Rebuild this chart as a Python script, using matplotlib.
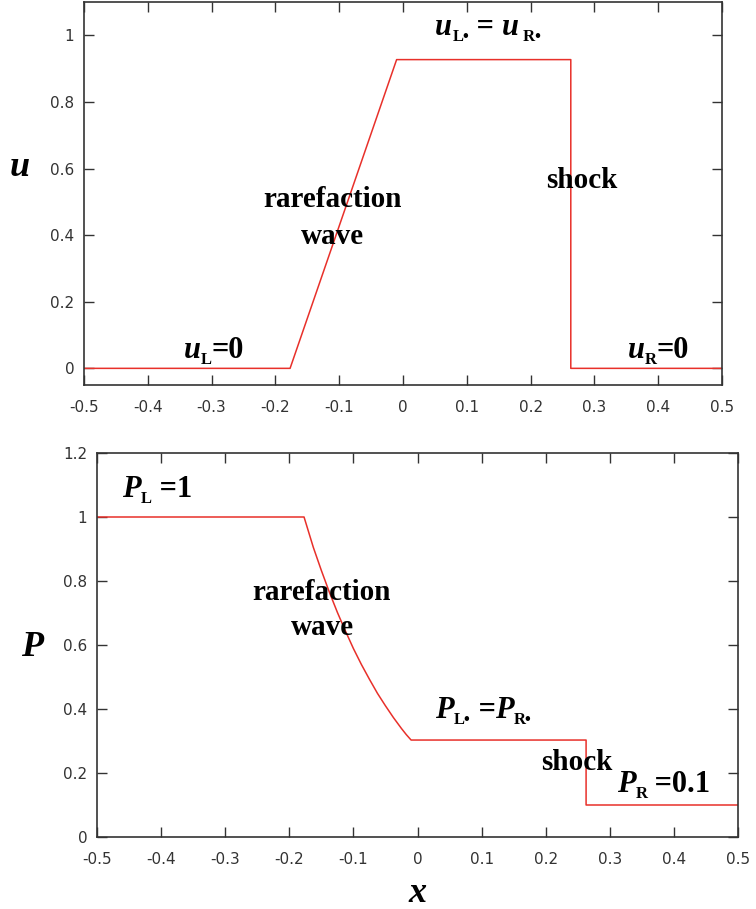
import numpy as np
import matplotlib
matplotlib.use('Agg')
from matplotlib import pyplot as plt
from matplotlib.ticker import FuncFormatter

plt.rcParams['axes.unicode_minus'] = False

# velocity profile: left state, rarefaction (linear), star state, shock, right state
u_x = [-0.5, -0.177, -0.010, 0.263, 0.263, 0.5]
u_vals = [0.0, 0.0, 0.927, 0.927, 0.0, 0.0]

# pressure profile: rarefaction fan is curved, so read at several points
p_x = [-0.5, -0.177, -0.1625, -0.15, -0.1375, -0.125, -0.1125, -0.1, -0.0875,
       -0.075, -0.0625, -0.05, -0.0375, -0.025, -0.0175, -0.010,
       0.263, 0.263, 0.5]
p_vals = [1.0, 1.0, 0.905, 0.833, 0.765, 0.702, 0.644, 0.589, 0.539,
          0.493, 0.449, 0.410, 0.373, 0.339, 0.320, 0.303,
          0.303, 0.1, 0.1]

x_ticks = [-0.5, -0.4, -0.3, -0.2, -0.1, 0, 0.1, 0.2, 0.3, 0.4, 0.5]
u_ticks = [0, 0.2, 0.4, 0.6, 0.8, 1]
p_ticks = [0, 0.2, 0.4, 0.6, 0.8, 1, 1.2]

LINE_COLOR = '#e8302a'
AX_COLOR = '#333333'
SERIF = 'Liberation Serif'
BIG = 22
SMALL = 12
NOTE = dict(fontsize=21, family=SERIF, fontweight='bold',
            ha='center', va='center', color='black')

W, H = 756, 909
fig = plt.figure(figsize=(W / 100, H / 100), dpi=100)
renderer = fig.canvas.get_renderer()

def px_axes(left, right, top, bottom):
    return fig.add_axes([left / W, 1 - bottom / H, (right - left) / W, (bottom - top) / H])

def style(ax, yticks):
    ax.set_xlim(-0.5, 0.5)
    ax.set_xticks(x_ticks)
    ax.set_yticks(yticks)
    fmt = FuncFormatter(lambda v, pos: '%g' % round(v, 2))
    ax.xaxis.set_major_formatter(fmt)
    ax.yaxis.set_major_formatter(fmt)
    ax.tick_params(direction='in', length=7, width=1, top=True, right=True,
                   labelsize=11, labelcolor='#333333', color=AX_COLOR)
    ax.tick_params(axis='x', pad=11)
    ax.tick_params(axis='y', pad=7)
    for s in ax.spines.values():
        s.set_color(AX_COLOR)
        s.set_linewidth(1.2)

def rich(ax, x, y, parts):
    # lay out pieces left to right on one baseline, subscripts shrunk and dropped,
    # then shift the whole group so it is centred on x
    texts = []
    dx = 0
    for s, kind in parts:
        size = SMALL if kind == 'sub' else BIG
        dy = -6 if kind == 'sub' else 0
        t = ax.annotate(s, (x, y), xytext=(dx, dy), textcoords='offset pixels',
                        fontsize=size, family=SERIF, fontweight='bold',
                        fontstyle='italic' if kind == 'it' else 'normal',
                        ha='left', va='baseline')
        texts.append(t)
        dx += t.get_window_extent(renderer).width
    for t in texts:
        t.xyann = (t.xyann[0] - dx / 2, t.xyann[1])

# top: velocity
ax1 = px_axes(84, 722, 2, 385)
ax1.plot(u_x, u_vals, color=LINE_COLOR, lw=1.1)
ax1.set_ylim(-0.05, 1.1)
style(ax1, u_ticks)
rich(ax1, -0.296, 0.03, [('u', 'it'), ('L', 'sub'), ('=0', 'rm')])
ax1.text(-0.111, 0.506, 'rarefaction', **NOTE)
ax1.text(-0.111, 0.395, 'wave', **NOTE)
rich(ax1, 0.133, 1.0, [('u', 'it'), ('L\u2022', 'sub'), (' = ', 'rm'),
                       ('u', 'it'), (' R\u2022', 'sub')])
ax1.text(0.281, 0.563, 'shock', **NOTE)
rich(ax1, 0.40, 0.03, [('u', 'it'), ('R', 'sub'), ('=0', 'rm')])
fig.text(20 / W, 1 - 167 / H, 'u', fontsize=26, family=SERIF, fontweight='bold',
         fontstyle='italic', ha='center', va='center')

# bottom: pressure
ax2 = px_axes(97, 738, 453, 837)
ax2.plot(p_x, p_vals, color=LINE_COLOR, lw=1.1)
ax2.set_ylim(0, 1.2)
style(ax2, p_ticks)
rich(ax2, -0.406, 1.0625, [('P', 'it'), ('L', 'sub'), (' =1', 'rm')])
ax2.text(-0.149, 0.7625, 'rarefaction', **NOTE)
ax2.text(-0.149, 0.656, 'wave', **NOTE)
rich(ax2, 0.103, 0.372, [('P', 'it'), ('L\u2022', 'sub'), (' =', 'rm'),
                         ('P', 'it'), ('R\u2022', 'sub')])
ax2.text(0.248, 0.234, 'shock', **NOTE)
rich(ax2, 0.384, 0.14, [('P', 'it'), ('R', 'sub'), (' =0.1', 'rm')])
fig.text(32 / W, 1 - 647 / H, 'P', fontsize=26, family=SERIF, fontweight='bold',
         fontstyle='italic', ha='center', va='center')
fig.text(417 / W, 1 - 893 / H, 'x', fontsize=26, family=SERIF, fontweight='bold',
         fontstyle='italic', ha='center', va='center')

fig.savefig('out.png', dpi=100)
